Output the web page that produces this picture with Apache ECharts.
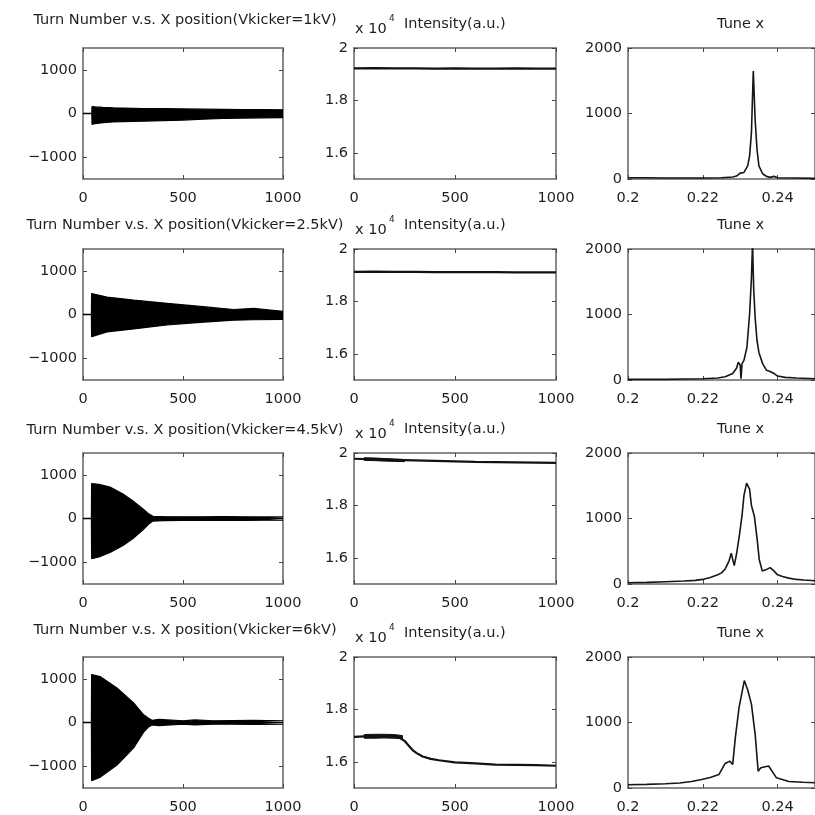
<!DOCTYPE html>
<html><head><meta charset="utf-8">
<script src="https://cdn.jsdelivr.net/npm/echarts@6/dist/echarts.min.js"></script>
<style>html,body{margin:0;padding:0;background:#fff}#c{width:815px;height:815px}</style>
</head><body><div id="c"></div>
<script>
// ---------- DATA ----------
const rowTitles = [
  'Turn Number v.s. X position(Vkicker=1kV)',
  'Turn Number v.s. X position(Vkicker=2.5kV)',
  'Turn Number v.s. X position(Vkicker=4.5kV)',
  'Turn Number v.s. X position(Vkicker=6kV)'
];
const intensityTitle = 'Intensity(a.u.)';
const intensityScale = 'x 10';
const intensityExp = '4';
const tuneTitle = 'Tune x';

const turnTicks = [0, 500, 1000];
const posTicks = [-1000, 0, 1000];
const intTicks = [1.6, 1.8, 2];
const tuneTicks = [0.2, 0.22, 0.24];
const ampTicks = [0, 1000, 2000];

// X position envelopes (turn number vs upper / lower extent of oscillation)
const posTurns1 = [0, 44, 45, 60, 100, 150, 200, 300, 400, 500, 600, 700, 800, 900, 1000];
const posUpper1 = [0, 0, 160, 150, 140, 130, 125, 115, 110, 105, 100, 95, 90, 90, 85];
const posLower1 = [0, 0, -250, -230, -210, -195, -185, -175, -165, -150, -130, -115, -105, -100, -95];

const posTurns2 = [0, 42, 43, 120, 253, 420, 587, 753, 853, 1000];
const posUpper2 = [0, 0, 480, 400, 330, 255, 185, 115, 140, 75];
const posLower2 = [0, 0, -510, -400, -330, -240, -180, -130, -120, -110];

const posTurns3 = [0, 42, 43, 80, 135, 200, 250, 300, 330, 350, 400, 500, 600, 700, 800, 900, 1000];
const posUpper3 = [0, 0, 800, 780, 720, 560, 400, 220, 100, 50, 45, 40, 40, 45, 40, 35, 35];
const posLower3 = [0, 0, -920, -880, -780, -620, -460, -260, -120, -60, -50, -45, -45, -40, -45, -40, -40];

const posTurns4 = [0, 42, 43, 87, 170, 253, 303, 328, 345, 380, 420, 500, 560, 650, 750, 850, 1000];
const posUpper4 = [0, 0, 1100, 1050, 790, 450, 175, 95, 50, 70, 60, 40, 60, 40, 45, 50, 40];
const posLower4 = [0, 0, -1330, -1250, -975, -580, -220, -100, -55, -70, -60, -40, -55, -40, -40, -45, -40];

// Intensity (x 10^4)
const intTurns1 = [0, 100, 200, 300, 400, 500, 600, 700, 800, 900, 1000];
const intVals1 = [1.922, 1.923, 1.922, 1.922, 1.921, 1.922, 1.921, 1.921, 1.922, 1.921, 1.921];
const intTurns2 = [0, 100, 200, 300, 400, 500, 600, 700, 800, 900, 1000];
const intVals2 = [1.913, 1.914, 1.913, 1.913, 1.912, 1.912, 1.912, 1.912, 1.911, 1.911, 1.911];
const intTurns3 = [0, 100, 200, 300, 400, 500, 600, 700, 800, 900, 1000];
const intVals3 = [1.978, 1.976, 1.974, 1.972, 1.970, 1.968, 1.966, 1.965, 1.964, 1.963, 1.962];
const intBandTurns3 = [50, 100, 150, 200, 250];
const intBandHi3 = [1.982, 1.981, 1.979, 1.977, 1.975];
const intBandLo3 = [1.972, 1.971, 1.969, 1.968, 1.967];
const intTurns4 = [0, 50, 100, 150, 200, 230, 250, 270, 290, 310, 340, 380, 420, 500, 600, 700, 800, 900, 1000];
const intVals4 = [1.695, 1.697, 1.698, 1.697, 1.696, 1.690, 1.680, 1.662, 1.645, 1.633, 1.620, 1.611, 1.606, 1.598, 1.594, 1.589, 1.588, 1.587, 1.585];
const intBandTurns4 = [50, 100, 150, 200, 240];
const intBandHi4 = [1.704, 1.705, 1.705, 1.704, 1.700];
const intBandLo4 = [1.690, 1.690, 1.691, 1.690, 1.688];

// Tune spectra
const tune1 = [0.200, 0.205, 0.210, 0.215, 0.220, 0.225, 0.228, 0.229, 0.2295, 0.230, 0.2305, 0.231, 0.232, 0.2325, 0.233, 0.2335, 0.234, 0.2345, 0.235, 0.236, 0.237, 0.238, 0.239, 0.2395, 0.240, 0.245, 0.250];
const amp1 = [20, 20, 15, 15, 15, 20, 30, 45, 70, 90, 60, 100, 200, 350, 700, 1650, 900, 450, 200, 80, 40, 25, 40, 30, 20, 15, 10];
const tune2 = [0.200, 0.210, 0.215, 0.220, 0.224, 0.226, 0.228, 0.229, 0.2295, 0.230, 0.2302, 0.2305, 0.231, 0.2318, 0.2325, 0.233, 0.2333, 0.2336, 0.234, 0.2345, 0.235, 0.236, 0.237, 0.238, 0.2385, 0.239, 0.240, 0.242, 0.245, 0.250];
const amp2 = [10, 10, 15, 20, 30, 50, 100, 180, 270, 230, 20, 250, 300, 500, 1000, 1550, 2100, 1400, 950, 600, 420, 250, 150, 130, 140, 100, 60, 40, 30, 20];
const tune3 = [0.200, 0.205, 0.210, 0.215, 0.218, 0.220, 0.222, 0.224, 0.225, 0.226, 0.227, 0.2276, 0.2284, 0.229, 0.2298, 0.2305, 0.231, 0.2317, 0.2325, 0.233, 0.2338, 0.2345, 0.2351, 0.2359, 0.237, 0.238, 0.239, 0.240, 0.2413, 0.243, 0.245, 0.247, 0.250];
const amp3 = [20, 25, 35, 45, 55, 70, 100, 140, 170, 230, 350, 470, 280, 450, 750, 1050, 1350, 1540, 1450, 1200, 1030, 700, 370, 200, 220, 250, 200, 140, 115, 90, 70, 60, 50];
const tune4 = [0.200, 0.205, 0.210, 0.2138, 0.217, 0.2197, 0.222, 0.2243, 0.2259, 0.2272, 0.228, 0.2287, 0.2297, 0.2311, 0.232, 0.233, 0.234, 0.2348, 0.2355, 0.2376, 0.2397, 0.243, 0.2468, 0.250];
const amp4 = [50, 55, 65, 77, 100, 130, 160, 205, 370, 410, 360, 770, 1230, 1640, 1500, 1280, 820, 255, 310, 335, 155, 100, 88, 80];

// ---------- LAYOUT / STYLE ----------
const FONT = 'DejaVu Sans';
const FS = 14.5;
const TXT = '#1e1e1e';
const FRAME = '#8a8a8a';
const colLeft = [83, 354, 628];
const colWidth = [200, 202, 200];
const rowTop = [48, 249, 453, 657];
const rowTitleY = [20.5, 225, 430, 630.5];
const boxH = 131;

const zip = (xs, ys) => xs.map((x, i) => [x, ys[i]]);
const posData = [
  [posTurns1, posUpper1, posLower1], [posTurns2, posUpper2, posLower2],
  [posTurns3, posUpper3, posLower3], [posTurns4, posUpper4, posLower4]
];
const intData = [[intTurns1, intVals1], [intTurns2, intVals2], [intTurns3, intVals3], [intTurns4, intVals4]];
const intBands = [null, null, [intBandTurns3, intBandHi3, intBandLo3], [intBandTurns4, intBandHi4, intBandLo4]];
const tuneData = [[tune1, amp1], [tune2, amp2], [tune3, amp3], [tune4, amp4]];

const grids = [], xAxes = [], yAxes = [], series = [], graphics = [];
const colCfg = [
  { xr: [0, 1000], xt: turnTicks, yr: [-1500, 1500], yt: posTicks, fmtY: v => v < 0 ? '\u2212' + Math.abs(v) : String(v), fmtX: v => String(v) },
  { xr: [0, 1000], xt: turnTicks, yr: [1.5, 2], yt: intTicks, fmtY: v => String(v), fmtX: v => String(v) },
  { xr: [0.2, 0.25], xt: tuneTicks, yr: [0, 2000], yt: ampTicks, fmtY: v => String(v), fmtX: v => String(Math.round(v * 100) / 100) }
];

function axisCommon(ticks, show) {
  return {
    axisLine: { show: true, onZero: false, lineStyle: { color: FRAME, width: 2 } },
    axisTick: { show: true, inside: true, length: 4, customValues: ticks, lineStyle: { color: '#444', width: 1 } },
    splitLine: { show: false },
    axisLabel: show ? {} : { show: false }
  };
}

function bandSeries(xi, yi, b) {
  return {
    type: 'custom', xAxisIndex: xi, yAxisIndex: yi, silent: true, animation: false,
    data: [[b[0][0], b[1][0]]],
    encode: { x: 0, y: 1 },
    renderItem: function (params, api) {
      const pts = [];
      for (let i = 0; i < b[0].length; i++) pts.push(api.coord([b[0][i], b[1][i]]));
      for (let i = b[0].length - 1; i >= 0; i--) pts.push(api.coord([b[0][i], b[2][i]]));
      return { type: 'polygon', shape: { points: pts }, style: { fill: '#111', stroke: '#111', lineWidth: 1 } };
    }
  };
}

for (let r = 0; r < 4; r++) {
  for (let c = 0; c < 3; c++) {
    const g = grids.length;
    const cfg = colCfg[c];
    grids.push({ left: colLeft[c], top: rowTop[r], width: colWidth[c], height: boxH, containLabel: false });
    const xb = Object.assign(axisCommon(cfg.xt, true), {
      type: 'value', gridIndex: g, position: 'bottom', min: cfg.xr[0], max: cfg.xr[1],
      axisLabel: { customValues: cfg.xt, formatter: cfg.fmtX, color: TXT, fontFamily: FONT, fontSize: FS, margin: 12 }
    });
    const xt = Object.assign(axisCommon(cfg.xt, false), {
      type: 'value', gridIndex: g, position: 'top', min: cfg.xr[0], max: cfg.xr[1]
    });
    const yl = Object.assign(axisCommon(cfg.yt, true), {
      type: 'value', gridIndex: g, position: 'left', min: cfg.yr[0], max: cfg.yr[1],
      axisLabel: { customValues: cfg.yt, formatter: cfg.fmtY, color: TXT, fontFamily: FONT, fontSize: FS, margin: 6 }
    });
    const yr = Object.assign(axisCommon(cfg.yt, false), {
      type: 'value', gridIndex: g, position: 'right', min: cfg.yr[0], max: cfg.yr[1]
    });
    const xi = xAxes.length; xAxes.push(xb, xt);
    const yi = yAxes.length; yAxes.push(yl, yr);

    if (c === 0) {
      const [t, up, lo] = posData[r];
      [up, lo].forEach(arr => series.push({
        type: 'line', xAxisIndex: xi, yAxisIndex: yi, data: zip(t, arr), symbol: 'none',
        lineStyle: { color: '#000', width: 1.2 }, areaStyle: { color: '#000', opacity: 1, origin: 'auto' },
        silent: true, animation: false
      }));
      series.push({ type: 'line', xAxisIndex: xi, yAxisIndex: yi, data: zip(t, t.map(() => 0)), symbol: 'none',
        lineStyle: { color: '#000', width: 1.5 }, silent: true, animation: false });
    } else if (c === 1) {
      const [t, v] = intData[r];
      series.push({ type: 'line', xAxisIndex: xi, yAxisIndex: yi, data: zip(t, v), symbol: 'none',
        lineStyle: { color: '#111', width: 2.2 }, silent: true, animation: false });
      const b = intBands[r];
      if (b) series.push(bandSeries(xi, yi, b));
    } else {
      const [t, a] = tuneData[r];
      series.push({ type: 'line', xAxisIndex: xi, yAxisIndex: yi, data: zip(t, a), symbol: 'none',
        lineStyle: { color: '#161616', width: 1.6 }, silent: true, animation: false });
    }
  }
  const txt = (text, x, y, align, size) => ({
    type: 'text', x: x, y: y, silent: true,
    style: { text: text, fill: TXT, fontFamily: FONT, fontSize: size || FS,
      textAlign: align, align: align, textVerticalAlign: 'middle', verticalAlign: 'middle' }
  });
  graphics.push(txt(rowTitles[r], 185, rowTitleY[r], 'center'));
  graphics.push(txt(intensityScale, 355, rowTop[r] - 19, 'left'));
  graphics.push(txt(intensityExp, 389, rowTop[r] - 29, 'left', 9));
  graphics.push(txt(intensityTitle, 404, rowTop[r] - 24, 'left'));
  graphics.push(txt(tuneTitle, 717, rowTop[r] - 24, 'left'));
}

const chart = echarts.init(document.getElementById('c'), null, { renderer: 'canvas' });
chart.setOption({
  backgroundColor: '#fff',
  animation: false,
  grid: grids,
  xAxis: xAxes,
  yAxis: yAxes,
  series: series,
  graphic: graphics
});
</script>
</body></html>
